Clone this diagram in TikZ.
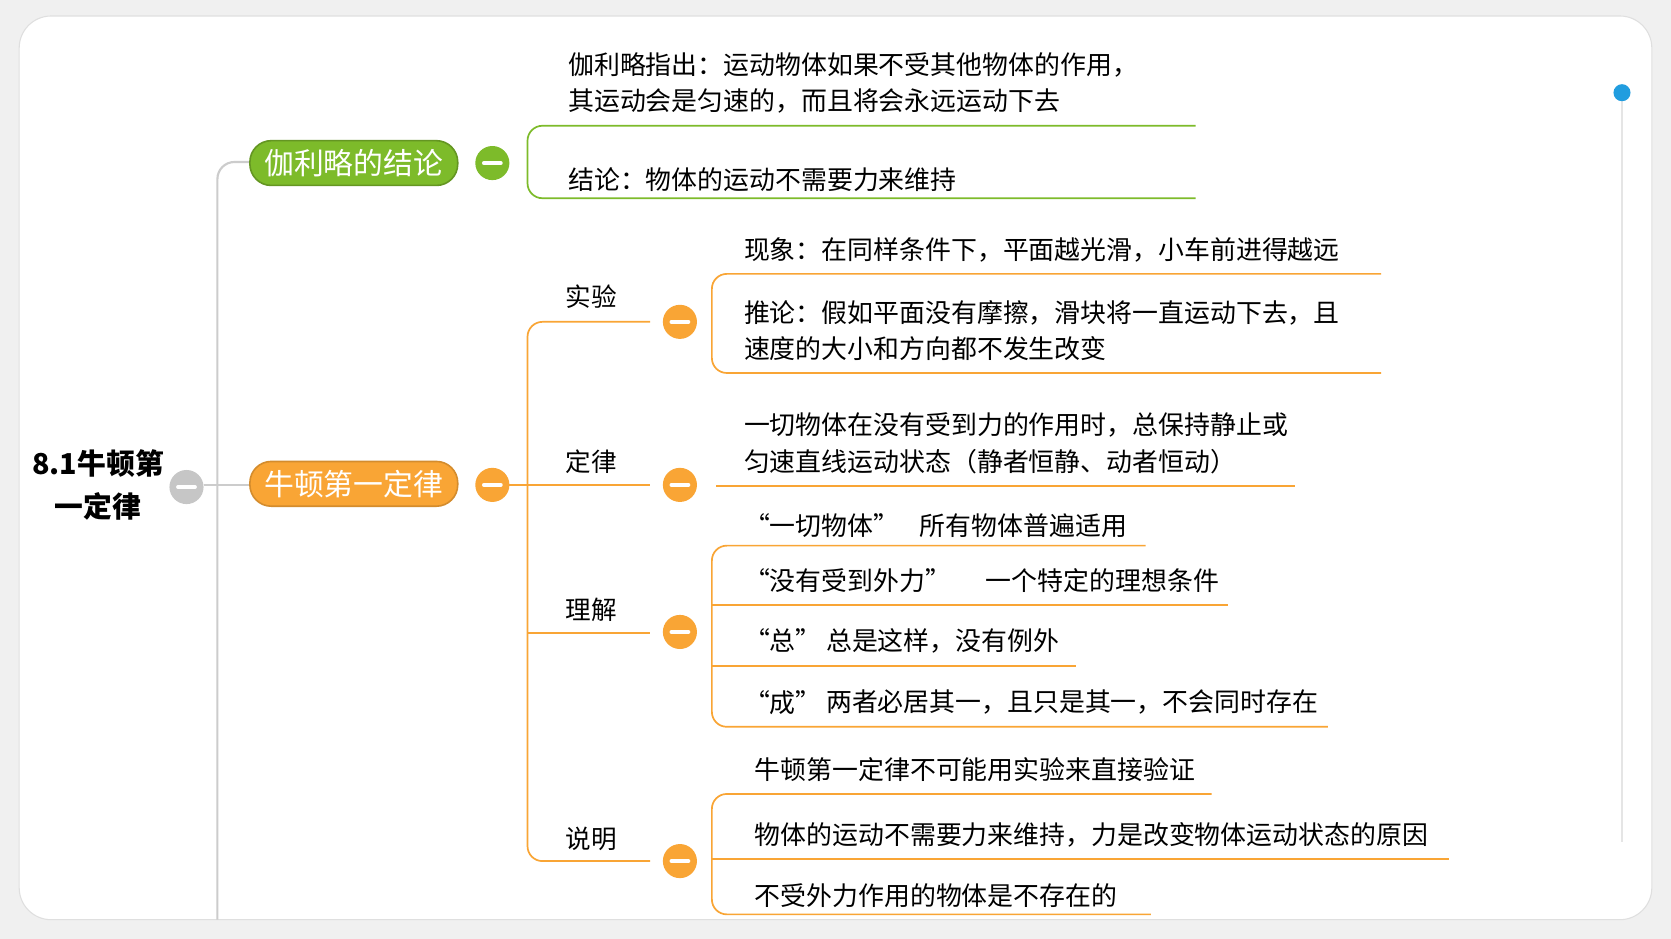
\documentclass[tikz,border=0pt]{standalone}
\usepackage{fontspec}
\setmainfont{Noto Sans CJK SC}
\begin{document}
\begin{tikzpicture}[x=1pt,y=-1pt,
  txt/.style={anchor=west,font=\fontsize{24.3}{34}\selectfont,inner sep=0pt,align=left},
  lbl/.style={font=\fontsize{24}{26}\selectfont,inner sep=0pt},
  oline/.style={line width=1.6pt,rounded corners=14pt},
  gline/.style={line width=1.6pt,rounded corners=14pt},
  ocirc/.style={circle,minimum size=32pt,inner sep=0pt},
  gcirc/.style={circle,minimum size=32pt,inner sep=0pt},
  minus/.style={white,line width=3.5pt,line cap=round}]
\definecolor{og}{HTML}{F9A535}
\definecolor{gr}{HTML}{7DBB2A}
\tikzset{oline/.append style={draw=og},gline/.append style={draw=gr},ocirc/.append style={fill=og},gcirc/.append style={fill=gr}}
\useasboundingbox (0,0) rectangle (1568,881);
\fill[gray!12] (0,0) rectangle (1568,881);
\fill[white,draw=gray!25,line width=1pt,rounded corners=30pt] (18,15) rectangle (1550,863);
% scrollbar
\draw[gray!20,line width=1.5pt] (1522,95) -- (1522,790);
\fill[cyan!80!blue!90] (1522,87) circle (8);
% root
\node[font=\bfseries\fontsize{27}{40}\selectfont,align=center] (root) at (92,455) {8.1牛顿第\\一定律};
\node[circle,fill=gray!45,minimum size=32pt,inner sep=0pt] (rc) at (175,457) {};
\draw[minus] (167,457) -- (183,457);
% trunk
\draw[gray!40,line width=2pt,rounded corners=16pt] (235,152) -- (204,152) -- (204,863);
\draw[gray!40,line width=2pt] (191,455) -- (235,455);
% green node
\node[draw=gr!80!black,line width=1.5pt,fill=gr,rounded corners=20pt,minimum width=195pt,minimum height=42pt,text=white,font=\fontsize{28}{30}\selectfont] (g) at (332,153) {伽利略的结论};
\node[gcirc] (gc) at (462,153) {};
\draw[minus] (454,153) -- (470,153);
\draw[gline] (1122,118) -- (495,118) -- (495,186) -- (1122,186);
\node[txt] (g1) at (533,78) {伽利略指出：运动物体如果不受其他物体的作用，\\其运动会是匀速的，而且将会永远运动下去};
\node[txt] (g2) at (533,169) {结论：物体的运动不需要力来维持};
% orange node
\node[draw=og!85!black,line width=1.5pt,fill=og,rounded corners=20pt,minimum width=195pt,minimum height=42pt,text=white,font=\fontsize{28}{30}\selectfont] (o) at (332,454) {牛顿第一定律};
\node[ocirc] (oc) at (462,455) {};
\draw[minus] (454,455) -- (470,455);
\draw[oline] (610,302) -- (495,302) -- (495,808) -- (610,808);
\draw[oline] (478,455) -- (610,455);
\draw[oline] (495,594) -- (610,594);
\node[lbl] (a) at (555,278) {实验};
\node[lbl] (b) at (555,433) {定律};
\node[lbl] (c) at (555,572) {理解};
\node[lbl] (d) at (555,787) {说明};
\foreach \n/\y in {ca/302,cb/455,cc/593,cd/808}{
  \node[ocirc] (\n) at (638,\y) {};
  \draw[minus] (630,\y) -- (646,\y);}
% 实验
\draw[oline] (1296,257) -- (668,257) -- (668,350) -- (1296,350);
\node[txt] at (698,235) {现象：在同样条件下，平面越光滑，小车前进得越远};
\node[txt] at (698,310) {推论：假如平面没有摩擦，滑块将一直运动下去，且\\速度的大小和方向都不发生改变};
% 定律
\draw[oline] (672,456) -- (1215,456);
\node[txt] at (698,416) {一切物体在没有受到力的作用时，总保持静止或\\匀速直线运动状态（静者恒静、动者恒动）};
% 理解
\draw[oline] (1075,512) -- (668,512) -- (668,682) -- (1246,682);
\draw[oline] (668,568) -- (1152,568);
\draw[oline] (668,625) -- (1010,625);
\node[txt] at (698,493) {“一切物体”};
\node[txt] at (863,493) {所有物体普遍适用};
\node[txt] at (698,545) {“没有受到外力”};
\node[txt] at (925,545) {一个特定的理想条件};
\node[txt] at (698,601) {“总”};
\node[txt] at (775,601) {总是这样，没有例外};
\node[txt] at (698,659) {“成”};
\node[txt] at (775,659) {两者必居其一，且只是其一，不会同时存在};
% 说明
\draw[oline] (1137,745) -- (668,745) -- (668,858) -- (1080,858);
\draw[oline] (668,806) -- (1360,806);
\node[txt] at (708,722) {牛顿第一定律不可能用实验来直接验证};
\node[txt] at (708,783) {物体的运动不需要力来维持，力是改变物体运动状态的原因};
\node[txt] at (708,840) {不受外力作用的物体是不存在的};
\end{tikzpicture}
\end{document}
